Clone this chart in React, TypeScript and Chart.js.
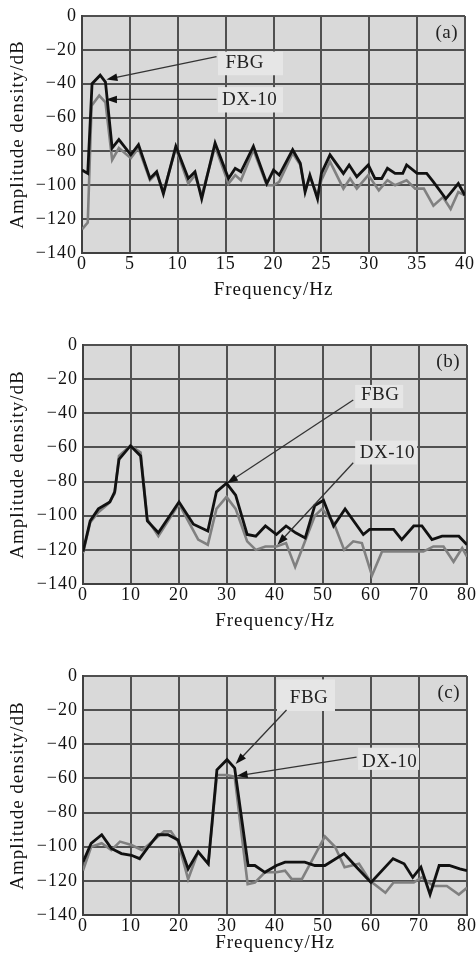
import React, { useEffect, useRef } from 'react';
import { Chart, registerables } from 'chart.js';
Chart.register(...registerables);

const SERIF = '"Liberation Serif", "Times New Roman", serif';

// ---------- Panel (a) ----------
const fbgAHz = [0, 0.6, 1.05, 1.9, 2.45, 3.15, 3.85, 5.1, 5.9, 7.1, 7.8, 8.5, 9.8, 11.1, 11.8, 12.5, 13.9, 15.3, 16.0, 16.6, 17.9, 19.3, 20.0, 20.6, 22.0, 22.8, 23.3, 23.8, 24.6, 25.0, 25.9, 27.3, 27.9, 28.7, 29.9, 30.6, 31.3, 31.9, 32.7, 33.5, 33.9, 35.0, 36.0, 36.7, 38.0, 39.3, 40];
const fbgAdB = [-91, -93, -40, -35, -39, -78, -73, -82, -76, -96, -92, -105, -77, -96, -92, -108, -75, -96, -90, -92, -77, -99, -91, -94, -79, -87, -104, -94, -108, -93, -82, -93, -88, -95, -88, -96, -96, -90, -93, -93, -88, -93, -93, -98, -108, -99, -106];
const dxAHz = [0, 0.6, 1.0, 1.8, 2.45, 3.15, 3.85, 5.1, 5.9, 7.1, 7.8, 8.5, 9.8, 11.1, 11.8, 12.5, 13.9, 15.3, 16.0, 16.6, 17.9, 19.3, 20.0, 20.6, 22.0, 22.8, 23.3, 23.8, 24.6, 25.0, 25.9, 27.3, 28.0, 28.7, 29.9, 31.0, 31.9, 32.7, 33.9, 34.8, 35.7, 36.7, 37.7, 38.5, 39.3, 40];
const dxAdB = [-126, -122, -53, -47, -51, -85, -78, -84, -78, -97, -93, -104, -78, -99, -94, -106, -77, -99, -94, -97, -79, -100, -100, -98, -81, -88, -103, -95, -106, -97, -86, -102, -96, -102, -94, -103, -97, -100, -97, -102, -102, -112, -107, -114, -104, -106];

// ---------- Panel (b) ----------
const fbgBHz = [0, 1.5, 3.2, 5.6, 6.6, 7.5, 9.9, 12.0, 13.4, 15.7, 20.0, 23.0, 26.0, 27.8, 29.9, 31.8, 34.2, 36.0, 38.0, 40.3, 42.3, 44.3, 46.3, 48.3, 50.1, 52.2, 54.6, 58.4, 59.7, 64.7, 66.4, 68.9, 70.6, 72.7, 74.8, 78.3, 80];
const fbgBdB = [-121, -103, -96, -92, -86, -67, -59, -65, -103, -110, -92, -105, -109, -86, -81, -88, -111, -112, -106, -111, -106, -110, -113, -94, -91, -106, -96, -111, -108, -108, -114, -106, -106, -114, -112, -112, -117];
const dxBHz = [0, 1.5, 3.2, 5.3, 6.6, 7.5, 9.9, 12.0, 13.4, 15.7, 20.0, 24.0, 26.0, 27.8, 29.9, 31.8, 34.2, 36.0, 38.0, 40.3, 42.3, 44.2, 48.3, 49.8, 52.2, 54.4, 56.3, 58.1, 60.2, 62.3, 70.9, 73.0, 75.1, 77.2, 79.0, 80];
const dxBdB = [-122, -104, -98, -93, -87, -65, -59, -63, -102, -112, -93, -114, -117, -96, -89, -96, -115, -120, -118, -118, -116, -130, -100, -96, -104, -120, -115, -116, -135, -121, -121, -118, -118, -127, -119, -124];

// ---------- Panel (c) ----------
const fbgCHz = [0, 1.7, 3.9, 5.9, 8.0, 10.1, 11.8, 13.9, 15.6, 17.7, 19.8, 21.9, 24.0, 26.1, 27.9, 30.0, 31.6, 34.4, 35.8, 37.9, 40.3, 42.1, 46.2, 48.3, 50.4, 54.4, 57.0, 60.0, 64.6, 66.9, 68.7, 70.4, 72.3, 74.2, 76.3, 78.5, 80];
const fbgCdB = [-109, -98, -93, -101, -104, -105, -107, -99, -93, -93, -96, -113, -103, -110, -55, -49, -54, -111, -111, -115, -111, -109, -109, -111, -111, -104, -112, -121, -107, -110, -118, -112, -128, -111, -111, -113, -114];
const dxCHz = [0, 1.7, 3.9, 5.9, 7.7, 10.1, 12.3, 14.0, 16.9, 18.3, 19.8, 21.9, 24.0, 26.1, 27.9, 30.0, 31.6, 34.3, 35.8, 37.9, 40.3, 42.1, 43.5, 45.6, 50.4, 52.5, 54.5, 57.5, 59.8, 63.0, 64.7, 68.9, 70.6, 73.0, 75.8, 78.3, 80];
const dxCdB = [-114, -100, -98, -102, -97, -99, -102, -98, -91, -91, -97, -119, -103, -110, -58, -58, -59, -122, -121, -115, -115, -114, -119, -119, -94, -100, -112, -110, -120, -127, -121, -121, -118, -123, -123, -128, -124];

const seriesNames = ['FBG', 'DX-10'];
const yTitle = 'Amplitude density/dB';
const xTitle = 'Frequency/Hz';

type Ann = { text: string; tx: number; ty: number; box: [number, number, number, number]; from: [number, number]; to: [number, number] };

type Panel = {
  top: number; height: number; padTop: number; padRight: number; yWidth: number; xHeight: number; titlePad: number;
  xMax: number; xStep: number; letter: string;
  fbg: [number[], number[]]; dx: [number[], number[]]; anns: Ann[];
};

const panels: Panel[] = [
  {
    top: 0, height: 310, padTop: 16, padRight: 11, yWidth: 82, xHeight: 57, titlePad: 8.6,
    xMax: 40, xStep: 5, letter: '(a)', fbg: [fbgAHz, fbgAdB], dx: [dxAHz, dxAdB],
    anns: [
      { text: 'FBG', tx: 17.0, ty: -27.8, box: [14.2, 21.0, -21, -35], from: [14.05, -24], to: [2.55, -37.5] },
      { text: 'DX-10', tx: 17.5, ty: -49.6, box: [14.2, 21.0, -42, -57], from: [14.05, -49.3], to: [2.5, -49.3] },
    ],
  },
  {
    top: 325, height: 315, padTop: 20, padRight: 9, yWidth: 83, xHeight: 56, titlePad: 7.6,
    xMax: 80, xStep: 10, letter: '(b)', fbg: [fbgBHz, fbgBdB], dx: [dxBHz, dxBdB],
    anns: [
      { text: 'FBG', tx: 61.9, ty: -29.3, box: [56.7, 66.7, -23.4, -37], from: [56.3, -32.2], to: [30.0, -81] },
      { text: 'DX-10', tx: 63.4, ty: -63.3, box: [56.7, 69.6, -56, -70], from: [56.3, -69], to: [40.5, -117] },
    ],
  },
  {
    top: 650, height: 311, padTop: 26, padRight: 9, yWidth: 83, xHeight: 46, titlePad: 6.6,
    xMax: 80, xStep: 10, letter: '(c)', fbg: [fbgCHz, fbgCdB], dx: [dxCHz, dxCdB],
    anns: [
      { text: 'FBG', tx: 47.1, ty: -12.9, box: [40.4, 52.5, -2, -20.5], from: [42.4, -19.9], to: [31.8, -51.5] },
      { text: 'DX-10', tx: 63.9, ty: -50.4, box: [57.3, 70.0, -42, -55], from: [57.0, -47.5], to: [32.0, -58.6] },
    ],
  },
];

function zip(xs: number[], ys: number[]) {
  return xs.map((x, i) => ({ x, y: ys[i] }));
}

function decoPlugin(p: Panel) {
  return {
    id: 'deco',
    beforeDraw(chart: any) {
      const { ctx, chartArea: a } = chart;
      (ctx as any).letterSpacing = '1px';
      ctx.save();
      ctx.fillStyle = '#d9d9d9';
      ctx.fillRect(a.left, a.top, a.right - a.left, a.bottom - a.top);
      ctx.restore();
    },
    afterDatasetsDraw(chart: any) {
      const { ctx, chartArea: a } = chart;
      const xs = chart.scales.x, ys = chart.scales.y;
      ctx.save();
      (ctx as any).letterSpacing = '0.5px';
      for (const an of p.anns) {
        const bx1 = xs.getPixelForValue(an.box[0]);
        const bx2 = xs.getPixelForValue(an.box[1]);
        const by1 = ys.getPixelForValue(an.box[2]);
        const by2 = ys.getPixelForValue(an.box[3]);
        ctx.fillStyle = '#e6e6e6';
        ctx.fillRect(bx1, by1, bx2 - bx1, by2 - by1);
        const fx = xs.getPixelForValue(an.from[0]);
        const fy = ys.getPixelForValue(an.from[1]);
        const tx = xs.getPixelForValue(an.to[0]);
        const ty = ys.getPixelForValue(an.to[1]);
        const ang = Math.atan2(ty - fy, tx - fx);
        const hl = 11, hw = 3.8;
        ctx.strokeStyle = '#333';
        ctx.lineWidth = 1.3;
        ctx.beginPath();
        ctx.moveTo(fx, fy);
        ctx.lineTo(tx - Math.cos(ang) * hl * 0.8, ty - Math.sin(ang) * hl * 0.8);
        ctx.stroke();
        ctx.fillStyle = '#111';
        ctx.beginPath();
        ctx.moveTo(tx, ty);
        ctx.lineTo(tx - Math.cos(ang) * hl - Math.sin(ang) * hw, ty - Math.sin(ang) * hl + Math.cos(ang) * hw);
        ctx.lineTo(tx - Math.cos(ang) * hl + Math.sin(ang) * hw, ty - Math.sin(ang) * hl - Math.cos(ang) * hw);
        ctx.closePath();
        ctx.fill();
        ctx.fillStyle = '#222';
        ctx.font = `19px ${SERIF}`;
        ctx.textAlign = 'center';
        ctx.textBaseline = 'middle';
        ctx.fillText(an.text, xs.getPixelForValue(an.tx), ys.getPixelForValue(an.ty));
      }
      ctx.fillStyle = '#222';
      ctx.font = `19px ${SERIF}`;
      ctx.textAlign = 'right';
      ctx.textBaseline = 'middle';
      ctx.fillText(p.letter, a.right - 7, a.top + 17);
      ctx.restore();
    },
  };
}

function PanelChart({ p }: { p: Panel }) {
  const ref = useRef<HTMLCanvasElement | null>(null);
  useEffect(() => {
    if (!ref.current) return;
    const grid = { color: '#505050', lineWidth: 2, drawTicks: false };
    const chart = new Chart(ref.current, {
      type: 'line',
      data: {
        datasets: [
          { label: seriesNames[0], data: zip(p.fbg[0], p.fbg[1]), borderColor: '#111111', borderWidth: 2.8, pointRadius: 0, tension: 0, fill: false },
          { label: seriesNames[1], data: zip(p.dx[0], p.dx[1]), borderColor: '#808080', borderWidth: 2.6, pointRadius: 0, tension: 0, fill: false },
        ],
      },
      options: {
        animation: false,
        responsive: false,
        maintainAspectRatio: false,
        events: [],
        layout: { padding: { top: p.padTop, right: p.padRight, bottom: 0, left: 0 } },
        plugins: { legend: { display: false }, tooltip: { enabled: false } },
        scales: {
          x: {
            type: 'linear', min: 0, max: p.xMax,
            grid,
            border: { display: true, color: '#404040', width: 2 },
            ticks: { stepSize: p.xStep, padding: 0, color: '#111', font: { family: SERIF, size: 18 }, maxRotation: 0, autoSkip: false },
            title: { display: true, text: xTitle, color: '#111', font: { family: SERIF, size: 19 }, padding: { top: 0, bottom: p.titlePad } },
            afterFit: (s: any) => { s.height = p.xHeight; s.paddingLeft = 0; s.paddingRight = 0; },
          },
          y: {
            type: 'linear', min: -140, max: 0,
            grid,
            border: { display: true, color: '#404040', width: 2 },
            ticks: {
              stepSize: 20, padding: 5, color: '#111', font: { family: SERIF, size: 18 },
              callback: (v: any) => (v < 0 ? '\u2212' + Math.abs(v) : String(v)),
            },
            title: { display: true, text: yTitle, color: '#111', font: { family: SERIF, size: 19 }, padding: { top: 6.6, bottom: 0 } },
            afterFit: (s: any) => { s.width = p.yWidth; s.paddingTop = 0; s.paddingBottom = 0; },
          },
        },
      } as any,
      plugins: [decoPlugin(p)],
    });
    return () => chart.destroy();
  }, [p]);
  return (
    <canvas
      ref={ref}
      width={476}
      height={p.height}
      style={{ position: 'absolute', left: 0, top: p.top, width: 476, height: p.height }}
    />
  );
}

export default function App() {
  return (
    <div style={{ position: 'absolute', left: 0, top: 0, width: 476, height: 961, background: '#fff' }}>
      {panels.map((p) => (
        <PanelChart key={p.letter} p={p} />
      ))}
    </div>
  );
}
